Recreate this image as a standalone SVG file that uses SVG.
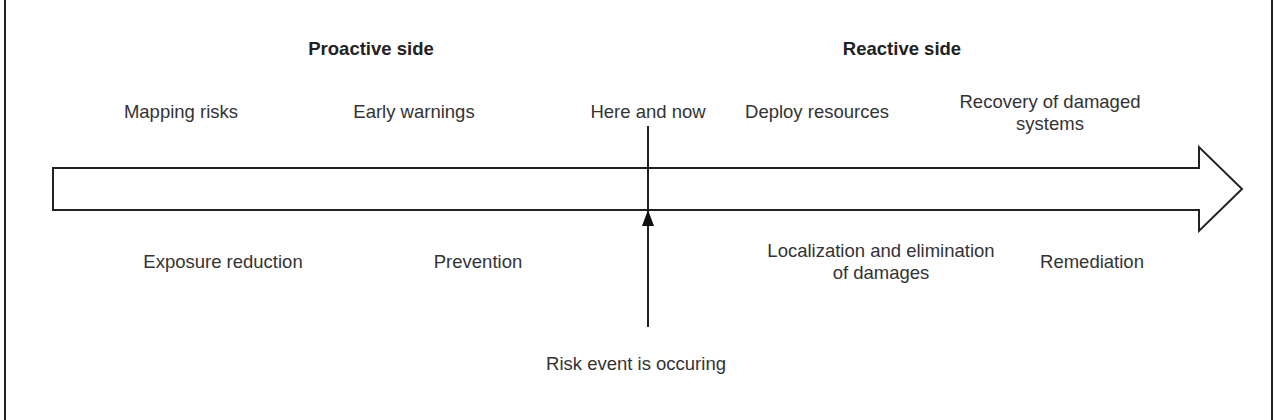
<svg xmlns="http://www.w3.org/2000/svg" width="1275" height="420" viewBox="0 0 1275 420">
<style>
text{font-family:"Liberation Sans",Arial,sans-serif;font-size:18.5px;fill:#333;text-anchor:middle}
.b{font-weight:bold;fill:#222}
.ln{stroke:#222;stroke-width:2;fill:none}
</style>
<defs>
<marker id="ah" markerWidth="16" markerHeight="12" refX="15" refY="6" orient="auto" markerUnits="userSpaceOnUse" viewBox="0 0 16 12">
<path d="M0,0 L16,6 L0,12 Z" fill="#111"/>
</marker>
</defs>
<rect width="1275" height="420" fill="#fff"/>
<g id="frame">
<line class="ln" x1="5" y1="0" x2="5" y2="420"/>
<line class="ln" x1="1272" y1="0" x2="1272" y2="420"/>
</g>
<g id="timeline">
<path class="ln" d="M53,168 H1199 V147 L1242,189 L1199,231 V210 H53 Z" fill="#fff"/>
</g>
<g id="connectors">
<line class="ln" x1="648" y1="126" x2="648" y2="327"/>
<line class="ln" x1="648" y1="327" x2="648" y2="211" marker-end="url(#ah)"/>
</g>
<g id="proactive"><text class="b" x="371" y="55">Proactive side</text></g>
<g id="reactive"><text class="b" x="902" y="55">Reactive side</text></g>
<g id="mapping"><text x="181" y="118">Mapping risks</text></g>
<g id="early"><text x="414" y="118">Early warnings</text></g>
<g id="herenow"><text x="648" y="118">Here and now</text></g>
<g id="deploy"><text x="817" y="118">Deploy resources</text></g>
<g id="recovery"><text x="1050" y="108">Recovery of damaged</text><text x="1050" y="130">systems</text></g>
<g id="exposure"><text x="223" y="268">Exposure reduction</text></g>
<g id="prevention"><text x="478" y="268">Prevention</text></g>
<g id="localization"><text x="881" y="257">Localization and elimination</text><text x="881" y="279">of damages</text></g>
<g id="remediation"><text x="1092" y="268">Remediation</text></g>
<g id="risk"><text x="636" y="370">Risk event is occuring</text></g>
</svg>
